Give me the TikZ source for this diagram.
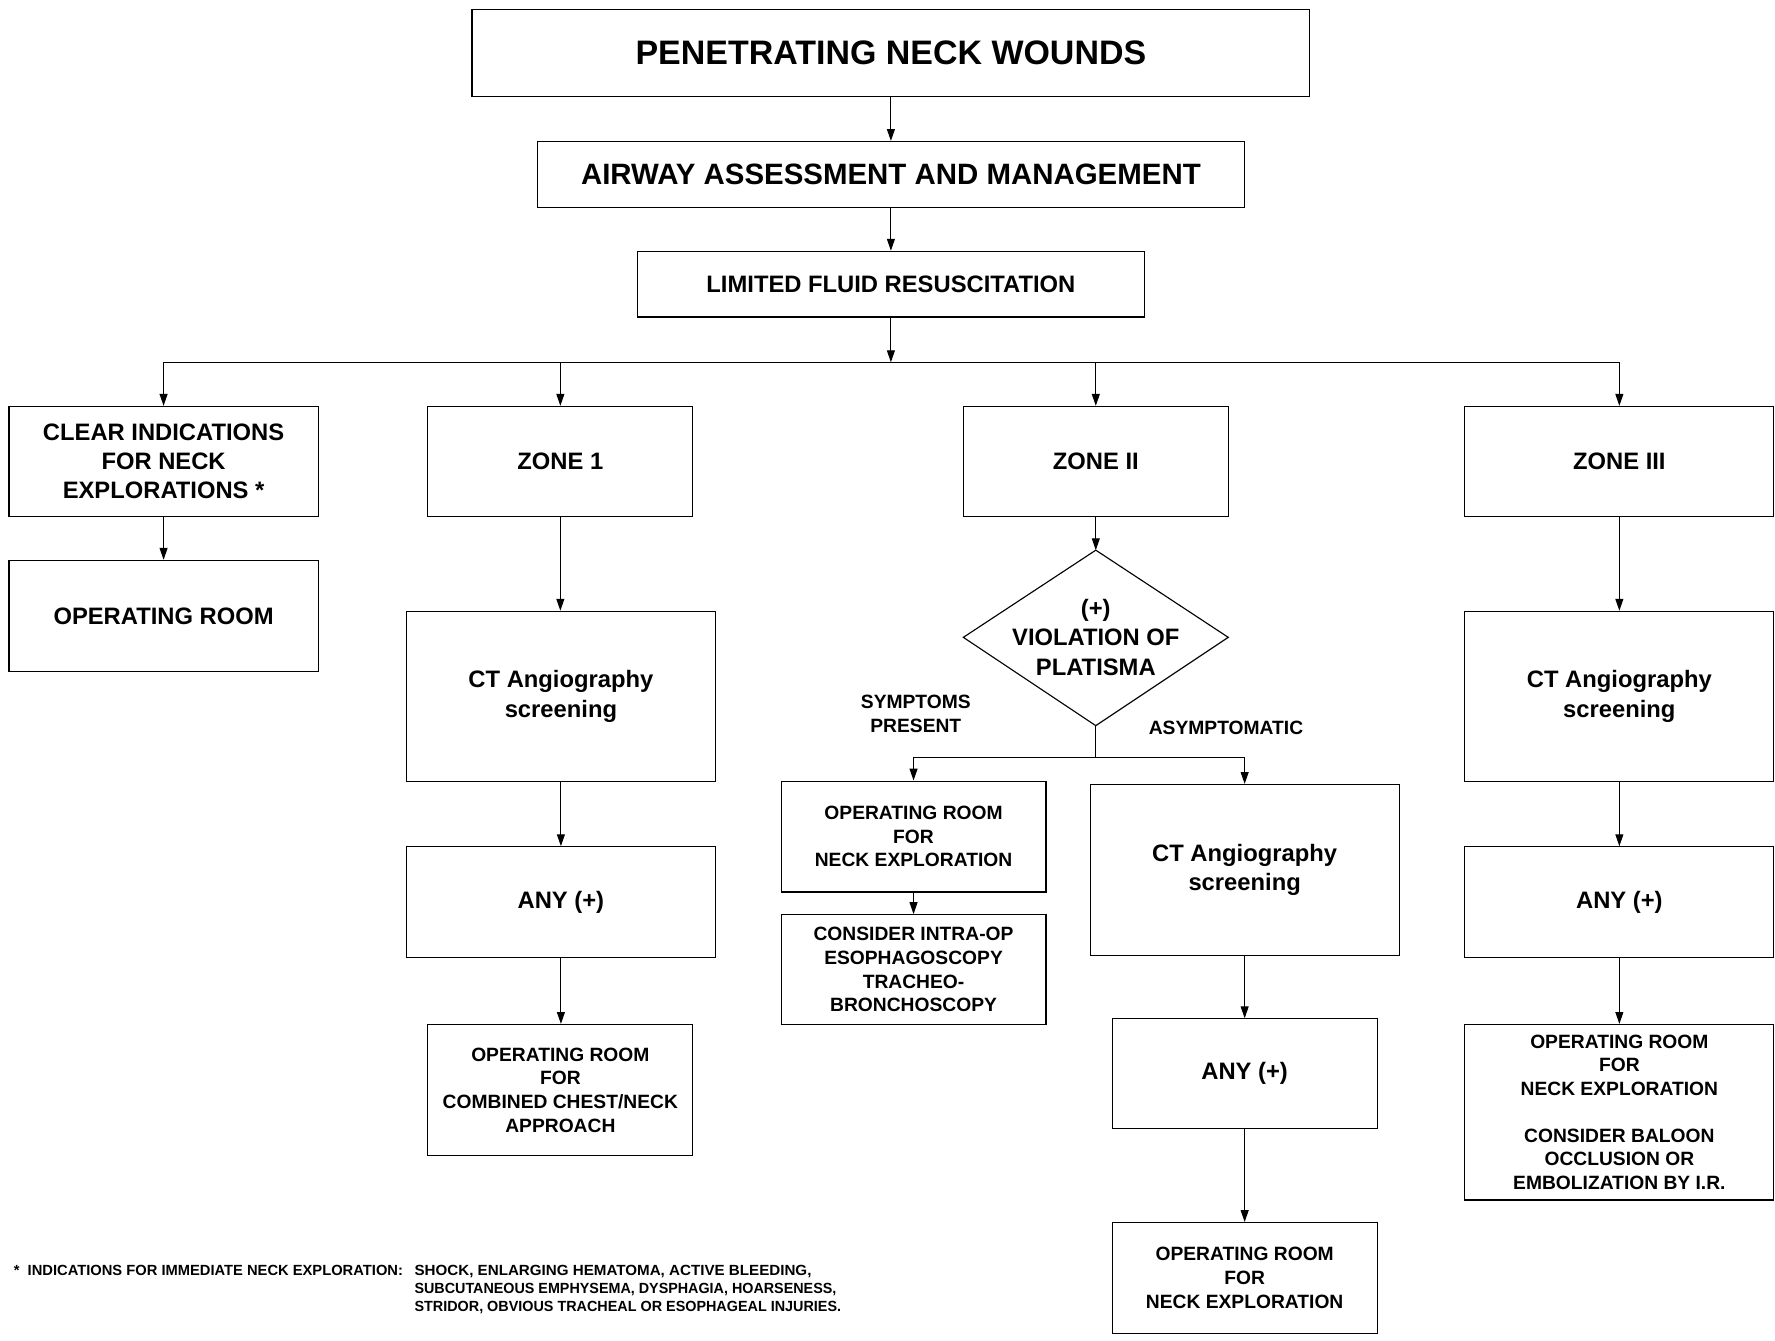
\documentclass[tikz,border=0pt]{standalone}
\usepackage{fontspec}
\usepackage{graphicx}
\setmainfont{Liberation Sans}
\usetikzlibrary{arrows.meta}
\begin{document}
\begin{tikzpicture}[x=1pt,y=-1pt,
  box/.style={draw, line width=1pt, rectangle, inner sep=0pt, align=center,
    font=\bfseries\fontsize{21}{26}\selectfont},
  big/.style={font=\bfseries\fontsize{21}{26}\selectfont},
  small/.style={font=\bfseries\fontsize{17}{21}\selectfont},
  fn/.style={font=\bfseries\fontsize{13}{16}\selectfont, anchor=base west, inner sep=0pt},
  wh/.style 2 args={minimum width=#1pt, minimum height=#2pt},
  arr/.style={-{Triangle[length=10.5pt,width=7pt]}, line width=1pt},
  link/.style={line width=1pt}]
\useasboundingbox[fill=white] (0,0) rectangle (1568,1184);

% top of the chart
\node[box, font=\bfseries\fontsize{30}{36}\selectfont, wh={740}{77}] (title) at (787,47) {PENETRATING NECK WOUNDS};
\node[box, font=\bfseries\fontsize{26}{31}\selectfont, wh={624}{58}] (airway) at (787,154) {AIRWAY ASSESSMENT AND MANAGEMENT};
\node[box, wh={448}{58}] (fluid) at (787,251) {LIMITED FLUID RESUSCITATION};

% first row of branches
\node[box, wh={273}{97}] (clear) at (144.5,407.5) {CLEAR INDICATIONS\\FOR NECK\\EXPLORATIONS *};
\node[box, wh={234}{97}] (zone1) at (495,407.5) {ZONE 1};
\node[box, wh={234}{97}] (zone2) at (968,407.5) {ZONE II};
\node[box, wh={273}{97}] (zone3) at (1430.5,407.5) {ZONE III};

% clear indications
\node[box, wh={273}{98}] (orclear) at (144.5,544) {OPERATING ROOM};

% zone 1
\node[box, wh={273}{150}] (ct1) at (495.5,615) {CT Angiography\\screening};
\node[box, wh={273}{98}] (any1) at (495.5,797) {ANY (+)};
\node[box, small, wh={234}{116}] (or1) at (495,963) {OPERATING ROOM\\FOR\\COMBINED CHEST/NECK\\APPROACH};

% zone 2
\coordinate (dtop) at (968,486);
\coordinate (dright) at (1085,563);
\coordinate (dbot) at (968,641);
\coordinate (dleft) at (851,563);
\draw[link, line join=miter] (dtop) -- (dright) -- (dbot) -- (dleft) -- cycle;
\node[big, align=center, inner sep=0pt] (viol) at (968,563) {(+)\\VIOLATION OF\\PLATISMA};
\node[small, align=center, inner sep=0pt] (sympt) at (809,630.5) {SYMPTOMS\\PRESENT};
\node[small, inner sep=0pt] (asym) at (1083,643) {ASYMPTOMATIC};
\coordinate (split) at (968,669);
\node[box, small, wh={234}{98}] (or2) at (807,739) {OPERATING ROOM\\FOR\\NECK EXPLORATION};
\node[box, small, wh={234}{97}] (consider) at (807,856.5) {CONSIDER INTRA-OP\\ESOPHAGOSCOPY\\TRACHEO-\\BRONCHOSCOPY};
\node[box, wh={273}{151}] (ct2) at (1099.5,768.5) {CT Angiography\\screening};
\node[box, wh={234}{97}] (any2) at (1099.5,948.5) {ANY (+)};
\node[box, small, wh={234}{98}] (or3) at (1099.5,1129) {OPERATING ROOM\\FOR\\NECK EXPLORATION};

% zone 3
\node[box, wh={273}{150}] (ct3) at (1430.5,615) {CT Angiography\\screening};
\node[box, wh={273}{98}] (any3) at (1430.5,797) {ANY (+)};
\node[box, small, wh={273}{155}] (or4) at (1430.5,982.5) {OPERATING ROOM\\FOR\\NECK EXPLORATION\\[20pt]CONSIDER BALOON\\OCCLUSION OR\\EMBOLIZATION BY I.R.};

% connectors
\draw[arr] (title.south) -- (airway.north);
\draw[arr] (airway.south) -- (fluid.north);
\coordinate (bus) at (787,320);
\draw[arr] (fluid.south) -- (bus);
\draw[link] (clear.north |- bus) -- (zone3.north |- bus);
\foreach \n in {clear,zone1,zone2,zone3}
  \draw[arr] (\n.north |- bus) -- (\n.north);
\draw[arr] (clear.south) -- (orclear.north);
\draw[arr] (zone1.south) -- (zone1.south |- ct1.north);
\draw[arr] (ct1.south) -- (any1.north);
\draw[arr] (any1.south) -- (any1.south |- or1.north);
\draw[arr] (zone2.south) -- (dtop);
\draw[link] (dbot) -- (split);
\draw[link] (or2.north |- split) -- (ct2.north |- split);
\draw[arr] (or2.north |- split) -- (or2.north);
\draw[arr] (ct2.north |- split) -- (ct2.north);
\draw[arr] (or2.south) -- (consider.north);
\draw[arr] (ct2.south) -- (any2.north);
\draw[arr] (any2.south) -- (or3.north);
\draw[arr] (zone3.south) -- (ct3.north);
\draw[arr] (ct3.south) -- (any3.north);
\draw[arr] (any3.south) -- (or4.north);

% footnote
\node[fn] (fnhead) at (12,1126.6) {* \ INDICATIONS FOR IMMEDIATE NECK EXPLORATION:};
\node[fn] (fn1) at (366,1126.6) {\scalebox{1.03}[1]{SHOCK, ENLARGING HEMATOMA, ACTIVE BLEEDING,}};
\node[fn] (fn2) at (366,1142.6) {\scalebox{0.974}[1]{SUBCUTANEOUS EMPHYSEMA, DYSPHAGIA, HOARSENESS,}};
\node[fn] (fn3) at (366,1158.6) {\scalebox{0.977}[1]{STRIDOR, OBVIOUS TRACHEAL OR ESOPHAGEAL INJURIES.}};
\end{tikzpicture}
\end{document}
